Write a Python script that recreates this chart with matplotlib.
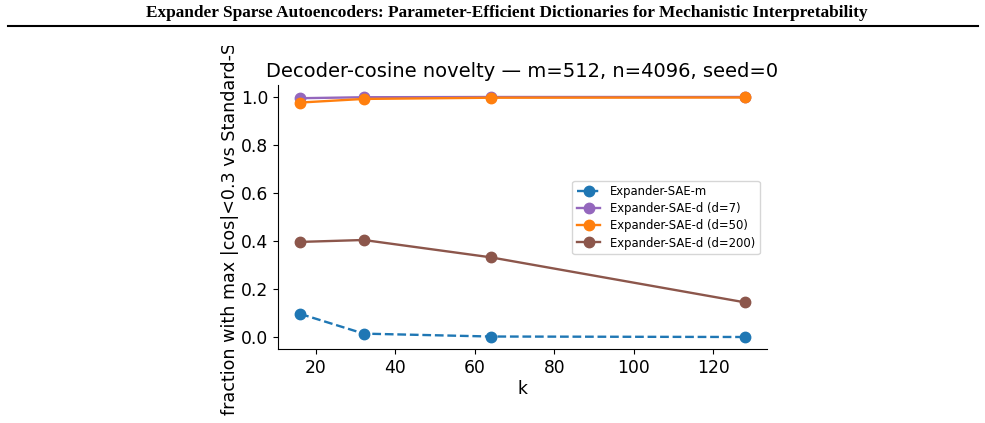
import matplotlib
matplotlib.use('Agg')
import matplotlib.pyplot as plt
from matplotlib.transforms import Bbox

# data
k_values = [16, 32, 64, 128]
sae_m = [0.097, 0.015, 0.003, 0.001]
sae_d7 = [0.993, 0.997, 0.998, 0.998]
sae_d50 = [0.975, 0.990, 0.995, 0.996]
sae_d200 = [0.396, 0.404, 0.332, 0.145]

header = 'Expander Sparse Autoencoders: Parameter-Efficient Dictionaries for Mechanistic Interpretability'

fig = plt.figure(figsize=(9.85, 4.23), dpi=100)

# page header + rule
fig.text(507 / 985, 1 - 13 / 423, header, ha='center', va='center',
         family='Liberation Serif', weight='bold', fontsize=12.4)
fig.add_artist(plt.Line2D([8 / 985, 978 / 985], [1 - 26 / 423] * 2, color='black', lw=1.5))

ax = fig.add_axes([278 / 985, 1 - 349 / 423, (767 - 278) / 985, (349 - 85) / 423])

ax.plot(k_values, sae_m, 'o--', color='#1f77b4', lw=1.7, ms=7.5, label='Expander-SAE-m')
ax.plot(k_values, sae_d7, 'o-', color='#9467bd', lw=1.7, ms=7.5, label='Expander-SAE-d (d=7)')
ax.plot(k_values, sae_d50, 'o-', color='#ff7f0e', lw=1.7, ms=7.5, label='Expander-SAE-d (d=50)')
ax.plot(k_values, sae_d200, 'o-', color='#8c564b', lw=1.7, ms=7.5, label='Expander-SAE-d (d=200)')

ax.spines['top'].set_visible(False)
ax.spines['right'].set_visible(False)
ax.tick_params(labelsize=12.3)
ax.set_xlabel('k', fontsize=12.3, labelpad=2)
ax.set_title('Decoder-cosine novelty — m=512, n=4096, seed=0', fontsize=14.0, pad=6)

ylab = ax.set_ylabel('fraction with max |cos|<0.3 vs Standard-SAE', fontsize=12.6, labelpad=1.5)
# the label is cut off at the top of the embedded figure
clip = Bbox.from_extents(0, 0, 985, 423 - 46)
ylab.set_clip_box(clip)
ylab.set_clip_on(True)

ax.legend(loc='upper right', bbox_to_anchor=(0.992, 0.651), fontsize=8.4,
          frameon=True, borderaxespad=0.3, labelspacing=0.35)

fig.savefig('out.png', dpi=100)
